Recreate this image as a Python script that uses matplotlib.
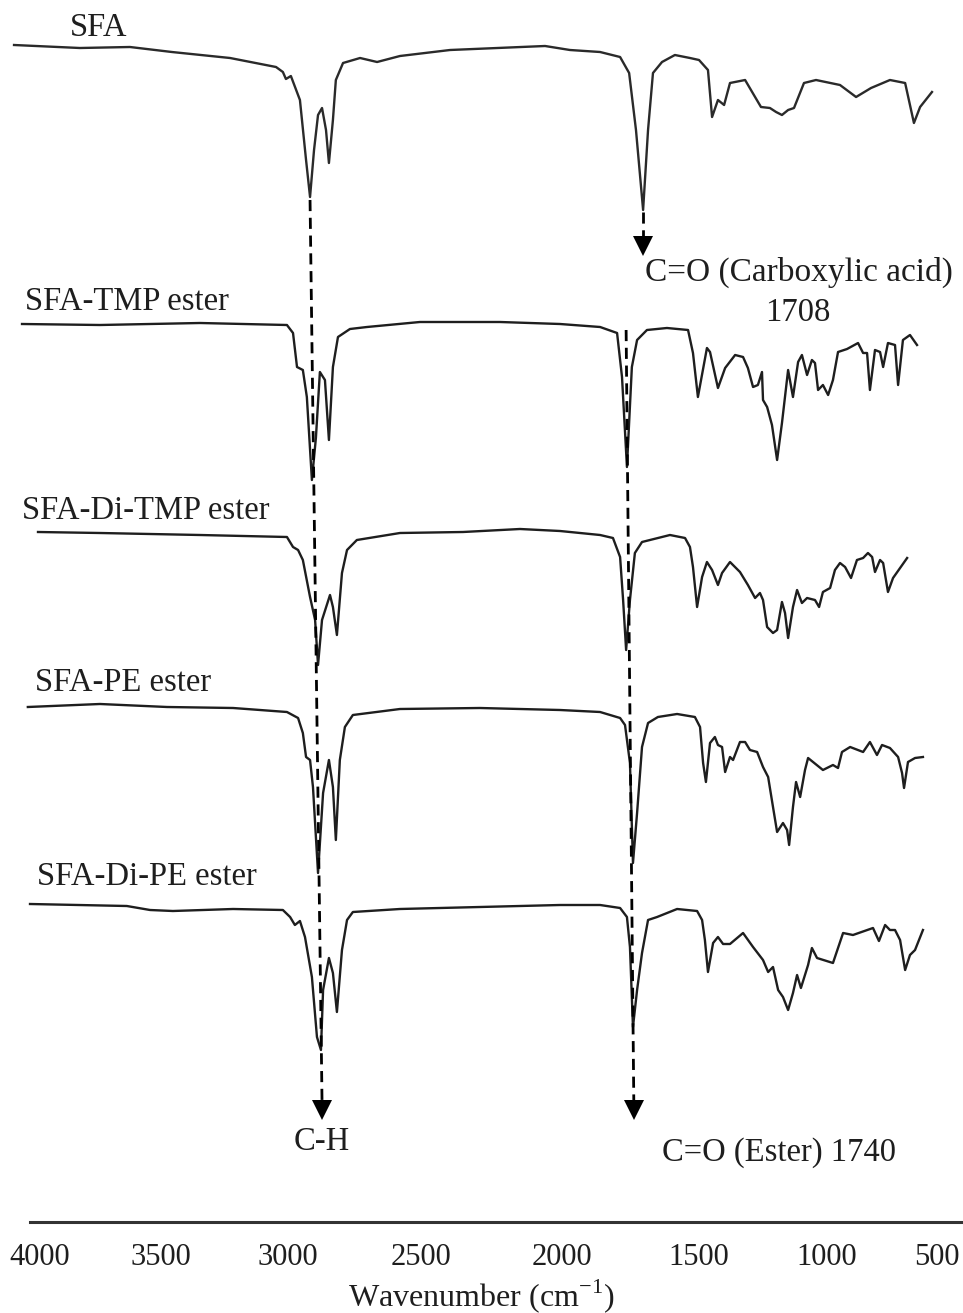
import matplotlib
matplotlib.use("Agg")
import matplotlib.pyplot as plt
import numpy as np

plt.rcParams['font.family'] = ['Liberation Serif', 'DejaVu Serif']
plt.rcParams['mathtext.fontset'] = 'custom'
plt.rcParams['mathtext.rm'] = 'Liberation Serif'

# ---- spectra: wavenumber (cm-1) and relative transmittance (%) ----
sfa_wn = [4107, 3835, 3628, 3457, 3228, 3047, 3020, 3008, 2989, 2955, 2932, 2917, 2902, 2887,
          2872, 2857, 2846, 2831, 2820, 2793, 2729, 2665, 2579, 2397, 2145, 2060, 1971, 1861,
          1788, 1755, 1730, 1704, 1686, 1668, 1635, 1588, 1533, 1500, 1465, 1449, 1426, 1402,
          1379, 1320, 1281, 1258, 1223, 1199, 1176, 1152, 1129, 1090, 1043, 941, 868, 800,
          714, 645, 605, 577, 523]
sfa_t = [100.5, 99, 99.5, 97, 94, 89.5, 87, 83.5, 85, 73, 43, 24.5, 48, 65.5,
         69, 58, 41.5, 63, 83, 91.5, 94, 92, 95, 98, 99.5, 100, 98, 97,
         94.5, 86.5, 58, 18, 58, 86.5, 92, 95.5, 94, 93, 88, 64.5, 73, 70.5,
         81.5, 83, 74.5, 69.5, 69, 67, 65.5, 68, 69, 81.5, 83, 80.5, 74.5, 79,
         83, 81.5, 61.5, 69.5, 77]

tmp_wn = [4074, 3752, 3346, 3004, 2981, 2966, 2944, 2929, 2910, 2895, 2880, 2861, 2846, 2831,
          2812, 2767, 2703, 2504, 2220, 2007, 1861, 1799, 1781, 1763, 1745, 1726, 1690, 1617,
          1540, 1522, 1504, 1469, 1457, 1426, 1398, 1359, 1328, 1309, 1289, 1270, 1254, 1250,
          1234, 1215, 1195, 1176, 1152, 1133, 1113, 1098, 1078, 1059, 1047, 1035, 1016, 995,
          973, 950, 909, 859, 836, 818, 805, 782, 759, 745, 723, 691, 677, 655, 623, 591]
tmp_t = [100, 99.5, 100.5, 99.5, 95.5, 78.5, 77, 63.5, 22, 43, 76, 72, 42, 78.5,
         93.5, 97.5, 98.5, 101, 101, 100, 98.5, 95.5, 73.5, 28.5, 78.5, 92, 97, 98,
         97, 85.5, 63.5, 88, 86, 68, 78, 84.5, 83.5, 78, 68.5, 69.5, 76, 62,
         58.5, 49.5, 32, 50.5, 77, 63.5, 81, 84.5, 74.5, 82, 80.5, 67, 69.5, 64.5,
         72, 86, 87.5, 90.5, 85.5, 85.5, 67, 87, 86, 78.5, 90.5, 89.5, 69.5, 92, 94.5, 89.5]

ditmp_wn = [4008, 3752, 3346, 3004, 2981, 2962, 2944, 2917, 2898, 2887, 2872, 2842, 2831, 2816,
            2797, 2778, 2741, 2579, 2351, 2149, 2007, 1861, 1814, 1788, 1777, 1766, 1752, 1734,
            1708, 1679, 1606, 1551, 1533, 1522, 1507, 1488, 1469, 1449, 1426, 1410, 1379, 1340,
            1309, 1281, 1262, 1250, 1234, 1211, 1195, 1176, 1164, 1152, 1133, 1117, 1098, 1078,
            1047, 1031, 1016, 986, 964, 941, 918, 891, 864, 836, 814, 795, 782, 759, 745, 723,
            700, 668, 636]
ditmp_t = [100, 99.5, 98.5, 97.5, 92.5, 91, 86, 67.5, 56, 33.5, 56, 68.5, 62.5, 48.5,
           79.5, 91, 96, 99.5, 100, 101.5, 100.5, 98.5, 97, 87.5, 66, 41, 66, 89.5,
           95, 96, 98.5, 97, 92.5, 82.5, 62.5, 77.5, 85, 81, 73.5, 79.5, 85, 80,
           73.5, 67, 69.5, 66, 52.5, 49.5, 51, 65, 59.5, 47, 62.5, 71, 64.5, 67,
           66, 62.5, 70, 72, 81, 84.5, 82.5, 77, 86, 87, 89.5, 87.5, 80, 86, 84.5, 70,
           77, 82, 87]

pe_wn = [4050, 3752, 3476, 3216, 3004, 2962, 2944, 2932, 2917, 2906, 2887, 2868, 2846, 2831,
         2820, 2805, 2786, 2756, 2579, 2291, 2007, 1861, 1788, 1770, 1752, 1741, 1726, 1708,
         1686, 1650, 1580, 1515, 1496, 1484, 1473, 1457, 1438, 1426, 1410, 1398, 1379, 1367,
         1340, 1320, 1301, 1273, 1250, 1230, 1211, 1195, 1172, 1156, 1148, 1133, 1121, 1105,
         1086, 1074, 1016, 973, 950, 932, 895, 836, 805, 773, 750, 714, 677, 659, 650, 632,
         600, 564]
pe_t = [99.5, 101, 99.5, 99, 97, 94, 86.5, 74.5, 73, 59.5, 16.5, 56.5, 73, 59.5,
        33, 73, 89.5, 95.5, 98.5, 99, 98, 97, 94, 90.5, 71.5, 21.5, 46.5, 79.5,
        91.5, 94.5, 96, 94.5, 89.5, 71.5, 62, 81.5, 84.5, 80.5, 79.5, 67, 74.5, 73,
        82, 82, 78, 77, 69.5, 64.5, 49.5, 37, 41.5, 38, 30.5, 49.5, 62, 54.5,
        68, 74, 68, 70.5, 69, 77, 79.5, 77, 82, 75.5, 80.5, 79, 74.5, 66.5, 59, 72,
        74, 74.5]

dipe_wn = [4041, 3641, 3545, 3453, 3216, 3020, 2992, 2974, 2955, 2936, 2910, 2891, 2876, 2868,
           2846, 2831, 2816, 2797, 2778, 2756, 2579, 2291, 2007, 1861, 1788, 1763, 1752, 1741,
           1726, 1708, 1686, 1653, 1580, 1507, 1488, 1477, 1465, 1445, 1426, 1406, 1379, 1328,
           1289, 1250, 1230, 1211, 1191, 1172, 1152, 1133, 1117, 1102, 1074, 1059, 1039, 973,
           927, 882, 791, 764, 736, 714, 691, 668, 645, 623, 600, 564]
dipe_t = [100.5, 99.5, 97.5, 97, 98, 97.5, 94, 90, 92, 84, 64, 34, 27.5, 57.5,
          73.5, 66, 46.5, 77.5, 92.5, 96.5, 98, 99, 100, 100, 98.5, 94, 79, 39,
          57.5, 76, 92.5, 94, 98, 97, 92.5, 82.5, 66.5, 81, 84, 80.5, 80.5, 86,
          79, 72.5, 66.5, 69, 57.5, 54, 47.5, 56, 65, 58.5, 70, 78.5, 73.5, 71,
          86, 85, 88.5, 82, 90, 87.5, 87.5, 82.5, 67.5, 75, 77.5, 87.5]

names = ['SFA', 'SFA-TMP ester', 'SFA-Di-TMP ester', 'SFA-PE ester', 'SFA-Di-PE ester']
spectra_wn = [sfa_wn, tmp_wn, ditmp_wn, pe_wn, dipe_wn]
spectra_t = [sfa_t, tmp_t, ditmp_t, pe_t, dipe_t]
tick_values = [4000, 3500, 3000, 2500, 2000, 1500, 1000, 500]

# stacking offsets and where each name goes (layout)
offsets = [976, 698, 490, 316, 117]
name_pos = [(3876, 1194), (4062, 920), (4074, 711), (4021, 539), (4012, 345)]
t_scale = 2.0

# the printed axis is not evenly spaced: piecewise-linear scale through the tick positions
knot_wn = np.array([0, 500, 1000, 1500, 2000, 2500, 3000, 3500, 4000, 5000], dtype=float)
knot_pos = np.array([1047, 937, 827, 699, 562, 421, 288, 161, 40, -202], dtype=float)


def fwd(w):
    return -np.interp(w, knot_wn, knot_pos)


def inv(p):
    return np.interp(p, -knot_pos[::-1], knot_wn[::-1])


fig = plt.figure(figsize=(9.63, 13.13), dpi=100)
ax = fig.add_axes([0, 91 / 1313, 1, 1222 / 1313])
ax.set_xscale('function', functions=(fwd, inv))
ax.set_xlim(4165, 382)
ax.set_ylim(0, 1222)

ink = '#1e1e1e'
for i in range(len(names)):
    w = np.array(spectra_wn[i])
    t = np.array(spectra_t[i])
    ax.plot(w, offsets[i] + t * t_scale, color='#2a2a2a' if i == 0 else ink,
            lw=1.7, solid_joinstyle='round', clip_on=False)
    ax.text(name_pos[i][0], name_pos[i][1], names[i], ha='left', va='center',
            fontsize=23.5, color=ink)

# guide lines with arrow heads
dash = dict(color='black', lw=2.0, dashes=(4, 2.4))
ax.plot([2917, 2872], [1022, 122], **dash)
ax.plot([1766, 1738], [892, 122], **dash)
ax.plot([1704, 1704], [1010, 986], **dash)
ax.plot([2872, 1738, 1704], [112, 112, 976], 'v', color='black', ms=14, mew=0, ls='none')

ax.text(1697, 950, 'C=O (Carboxylic acid)', ha='left', va='center', fontsize=24, color=ink)
ax.text(1113, 909, '1708', ha='center', va='center', fontsize=23.5, color=ink)
ax.text(2872, 80, 'C-H', ha='center', va='center', fontsize=23.5, color=ink)
ax.text(1635, 69, 'C=O (Ester) 1740', ha='left', va='center', fontsize=23.5, color=ink)

for s in ['top', 'left', 'right']:
    ax.spines[s].set_visible(False)
ax.spines['bottom'].set_linewidth(2.2)
ax.spines['bottom'].set_color('#333333')
ax.spines['bottom'].set_bounds(4041, 382)
ax.set_yticks([])
ax.set_xticks(tick_values)
ax.set_xticklabels([str(v) for v in tick_values])
ax.xaxis.set_minor_locator(matplotlib.ticker.NullLocator())
ax.tick_params(axis='x', length=0, pad=15, labelsize=22, labelcolor=ink)
ax.set_xlabel('Wavenumber (cm$^{\\mathregular{-1}}$)', fontsize=23, color=ink, labelpad=4)

fig.savefig('out.png', dpi=100)
